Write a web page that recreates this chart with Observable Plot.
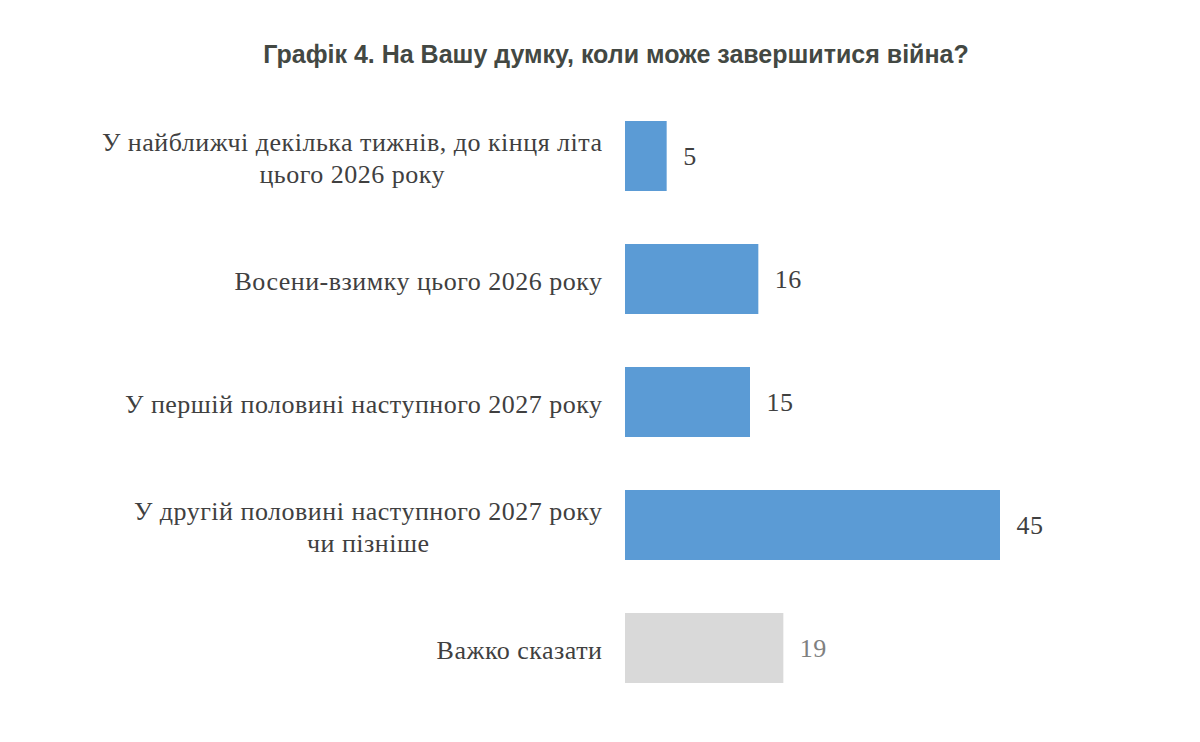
<!DOCTYPE html>
<html><head><meta charset="utf-8">
<script src="https://cdn.jsdelivr.net/npm/d3@7"></script>
<script src="https://cdn.jsdelivr.net/npm/@observablehq/plot@0.6"></script>
<style>
body{margin:0;background:#fff;}
#title{height:90px;box-sizing:border-box;padding-top:40px;padding-left:32px;text-align:center;font:bold 25px "Liberation Sans", Arial, sans-serif;color:#434843;white-space:nowrap;}
#chart svg text{letter-spacing:0.5px;}
</style></head><body>
<div id="title">Графік 4. На Вашу думку, коли може завершитися війна?</div>
<div id="chart"></div>
<script>
const categories = [
  "У найближчі декілька тижнів, до кінця літа\nцього 2026 року",
  "Восени-взимку цього 2026 року",
  "У першій половині наступного 2027 року",
  "У другій половині наступного 2027 року\nчи пізніше",
  "Важко сказати"
];
const values = [5, 16, 15, 45, 19];
const groups = ["answer", "answer", "answer", "answer", "unsure"];

const data = categories.map((c, i) => ({cat: c, value: values[i], group: groups[i]}));

const serif = "'Liberation Serif', 'Times New Roman', serif";
const labelSize = 26;
const ctx = document.createElement("canvas").getContext("2d");
ctx.font = `${labelSize}px ${serif}`;
try { ctx.letterSpacing = "0.5px"; } catch (e) {}
const blockWidth = c => d3.max(c.split("\n"), l => ctx.measureText(l).width);

const labelMarks = categories.map(c => Plot.text(data, {
  filter: d => d.cat === c,
  x: () => 0, y: "cat", text: "cat",
  textAnchor: "middle", lineAnchor: "middle", lineHeight: 32 / labelSize,
  dx: -23 - blockWidth(c) / 2,
  fontSize: labelSize, fontFamily: serif,
  fill: "#404040"
}));

const chart = Plot.plot({
  width: 1200, height: 652,
  marginLeft: 625, marginRight: 200, marginTop: 3.25, marginBottom: 31.25,
  x: {domain: [0, 45], axis: null},
  y: {domain: categories, axis: null, paddingInner: 0.433, paddingOuter: 0.2165},
  color: {domain: ["answer", "unsure"], range: ["#5b9bd5", "#d9d9d9"]},
  marks: [
    Plot.barX(data, {x: "value", y: "cat", fill: "group"}),
    Plot.text(data, {
      x: "value", y: "cat", text: d => String(d.value),
      textAnchor: "start", dx: 16,
      fontSize: labelSize, fontFamily: serif,
      fill: d => d.group === "unsure" ? "#808080" : "#404040"
    }),
    ...labelMarks
  ]
});
document.getElementById("chart").appendChild(chart);
</script>
</body></html>
